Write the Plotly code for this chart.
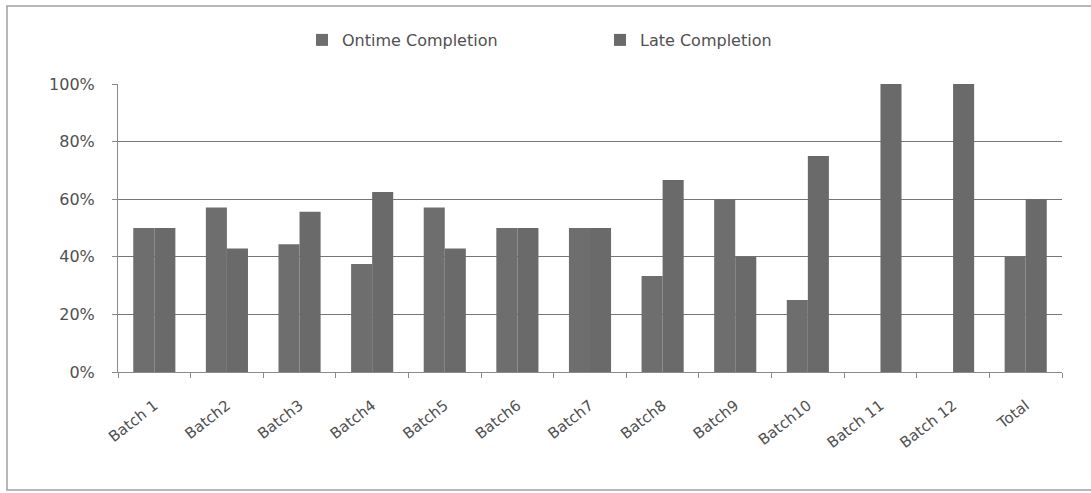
import plotly.graph_objects as go

categories = ["Batch 1", "Batch2", "Batch3", "Batch4", "Batch5", "Batch6", "Batch7",
              "Batch8", "Batch9", "Batch10", "Batch 11", "Batch 12", "Total"]
ontime = [0.50, 0.571, 0.444, 0.375, 0.571, 0.50, 0.50, 0.333, 0.60, 0.25, 0.0, 0.0, 0.40]
late = [0.50, 0.429, 0.556, 0.625, 0.429, 0.50, 0.50, 0.667, 0.40, 0.75, 1.0, 1.0, 0.60]

W, H = 1091, 493
ML, MR, MT, MB = 118, 29, 84, 121
PW, PH = W - ML - MR, H - MT - MB

font = dict(family="DejaVu Sans, Verdana, sans-serif", size=15, color="#505050")


def px_x(p):
    return (p - ML) / PW


def px_y(p):
    return (H - MB - p) / PH


fig = go.Figure()
fig.add_trace(go.Bar(name="Ontime Completion", x=categories, y=ontime, legend="legend",
                     marker=dict(color="#6e6e6e", line=dict(width=0))))
fig.add_trace(go.Bar(name="Late Completion", x=categories, y=late, legend="legend2",
                     marker=dict(color="#6a6a6a", line=dict(width=0))))

legend_style = dict(orientation="h", yanchor="middle", y=px_y(40), xanchor="left",
                    font=dict(size=16, color="#505050"), itemwidth=30,
                    bgcolor="rgba(0,0,0,0)")

fig.update_layout(
    width=W, height=H,
    margin=dict(l=ML, r=MR, t=MT, b=MB),
    paper_bgcolor="white", plot_bgcolor="white",
    font=font,
    barmode="group", bargap=0.42, bargroupgap=0.0,
    showlegend=True,
    legend=dict(legend_style, x=px_x(302)),
    legend2=dict(legend_style, x=px_x(600)),
    xaxis=dict(showgrid=False, showline=True, linecolor="#8a8a8a", linewidth=1,
               ticks="outside", ticklen=5, tickcolor="#8a8a8a", tickson="boundaries",
               tickangle=-38, ticklabelstandoff=18,
               tickfont=dict(size=15, color="#505050")),
    yaxis=dict(range=[0, 1], tickvals=[0, 0.2, 0.4, 0.6, 0.8, 1.0], tickformat=".0%",
               showgrid=True, gridcolor="#767676", gridwidth=1,
               showline=True, linecolor="#8a8a8a", linewidth=1,
               ticks="outside", ticklen=5, tickcolor="#8a8a8a", ticklabelstandoff=14,
               zeroline=False, tickfont=dict(size=16, color="#505050")),
    shapes=[dict(type="rect", xref="paper", yref="paper",
                 x0=px_x(7), x1=px_x(1100), y0=px_y(490), y1=px_y(6),
                 line=dict(color="#a0a0a0", width=1.5), layer="below")],
)

fig.write_html("out.html")
